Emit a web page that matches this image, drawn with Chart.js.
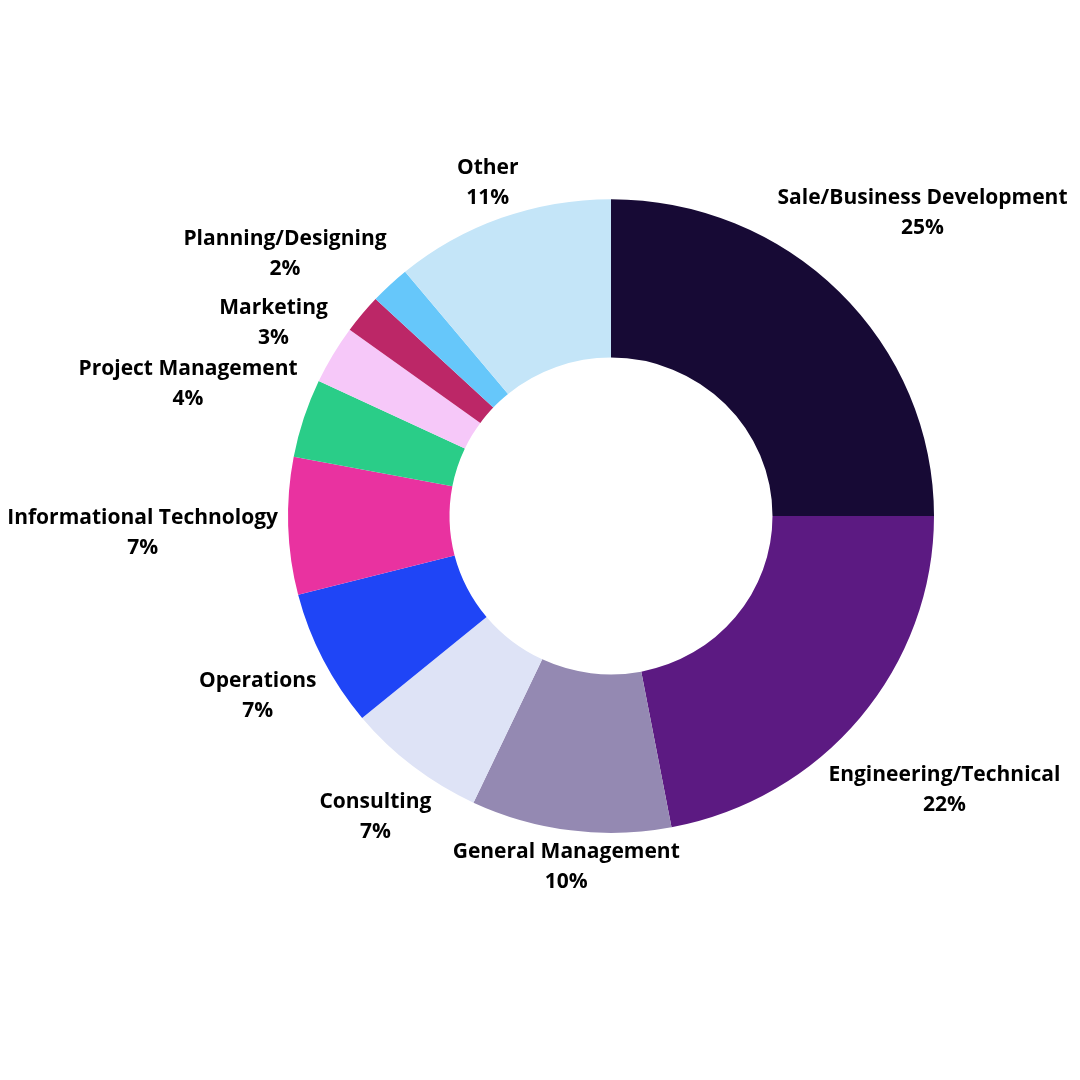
<!DOCTYPE html>
<html>
<head>
<meta charset="utf-8">
<script src="https://cdn.jsdelivr.net/npm/chart.js@4/dist/chart.umd.min.js"></script>
<style>
  html, body { margin: 0; padding: 0; background: #fff; }
  #wrap { width: 1080px; height: 1080px; position: relative; }
</style>
</head>
<body>
<div id="wrap"><canvas id="rolesChart"></canvas></div>
<script>
const categories = [
  "Sale/Business Development",
  "Engineering/Technical",
  "General Management",
  "Consulting",
  "Operations",
  "Informational Technology",
  "Project Management",
  "Marketing",
  "Planning/Designing",
  "",
  "Other",
];
const shares = [25, 22, 10, 7, 7, 7, 4, 3, 2, 2, 11];
const sliceColors = [
  "#170a35", "#5c1a82", "#9489b2", "#dee3f6", "#1f45f6", "#e932a0",
  "#2acd88", "#f6c8f9", "#bc2767", "#66c7fa", "#c4e5f8",
];

const FONT = "bold 21px 'Open Sans', sans-serif";
const LINE_H = 30;
const SQUASH_Y = 0.981; // the original ring is a touch wider than tall

// squash the ring vertically around its centre
const squashRing = {
  id: "squashRing",
  beforeDatasetsDraw(chart) {
    const arc = chart.getDatasetMeta(0).data[0];
    const { ctx } = chart;
    ctx.save();
    ctx.translate(arc.x, arc.y);
    ctx.scale(1, SQUASH_Y);
    ctx.translate(-arc.x, -arc.y);
  },
  afterDatasetsDraw(chart) {
    chart.ctx.restore();
  },
};

// labels pushed out along the slice's middle until the text box clears the ring
const outsideLabels = {
  id: "outsideLabels",
  afterDatasetsDraw(chart) {
    const { ctx } = chart;
    const meta = chart.getDatasetMeta(0);
    ctx.save();
    ctx.font = FONT;
    ctx.fillStyle = "#000";
    ctx.textAlign = "center";
    ctx.textBaseline = "middle";
    meta.data.forEach((arc, i) => {
      if (!categories[i]) return;
      const { x, y, startAngle, endAngle, outerRadius } = arc.getProps(
        ["x", "y", "startAngle", "endAngle", "outerRadius"], true);
      const mid = (startAngle + endAngle) / 2;
      const lines = [categories[i], shares[i] + "%"];
      const w = Math.max(...lines.map((t) => ctx.measureText(t).width)) + 8;
      const h = 50;
      const target = outerRadius + 6;
      const ux = Math.cos(mid), uy = Math.sin(mid) * SQUASH_Y;
      const dist = (r) => {
        const bx = ux * r, by = uy * r;
        const dx = Math.max(Math.abs(bx) - w / 2, 0);
        const dy = Math.max(Math.abs(by) - h / 2, 0) / SQUASH_Y;
        return Math.hypot(dx, dy);
      };
      let lo = 0, hi = 1200;
      for (let k = 0; k < 40; k++) {
        const m = (lo + hi) / 2;
        if (dist(m) < target) lo = m; else hi = m;
      }
      const lx = x + ux * hi;
      const ly = y + uy * hi + 3;
      ctx.fillText(lines[0], lx, ly - LINE_H / 2);
      ctx.fillText(lines[1], lx, ly + LINE_H / 2);
    });
    ctx.restore();
  },
};

new Chart(document.getElementById("rolesChart"), {
  type: "doughnut",
  data: {
    labels: categories,
    datasets: [
      {
        data: shares,
        backgroundColor: sliceColors,
        borderWidth: 0,
      },
    ],
  },
  options: {
    responsive: true,
    maintainAspectRatio: false,
    animation: false,
    cutout: "50%",
    layout: { padding: { left: 288, right: 146, top: 193, bottom: 241 } },
    plugins: {
      legend: { display: false },
      tooltip: { enabled: false },
    },
  },
  plugins: [squashRing, outsideLabels],
});
</script>
</body>
</html>
